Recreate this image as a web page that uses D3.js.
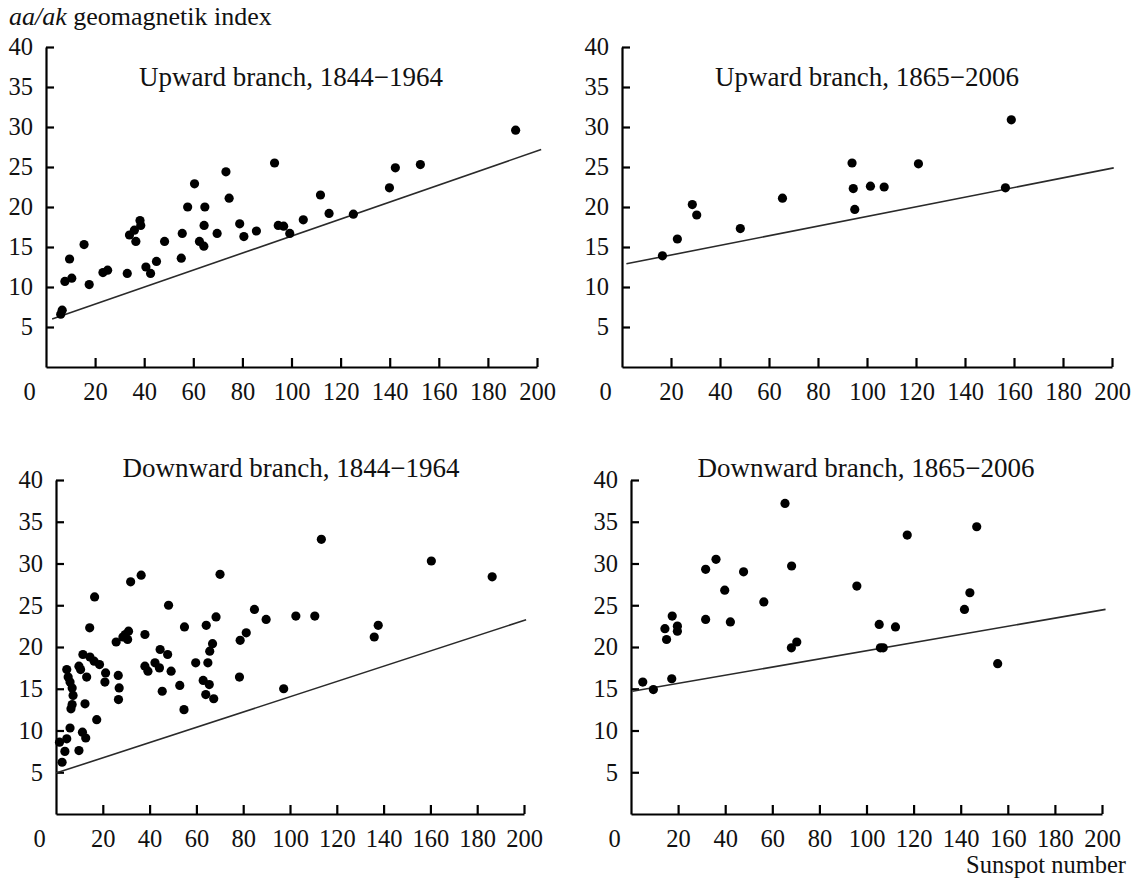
<!DOCTYPE html>
<html>
<head>
<meta charset="utf-8">
<script src="https://cdn.jsdelivr.net/npm/d3@7/dist/d3.min.js"></script>
<style>
  html, body { margin: 0; padding: 0; background: #fff; }
  svg { display: block; }
  text { font-family: "Liberation Serif", "Times New Roman", serif; fill: #111; }
</style>
</head>
<body>
<svg id="chart" width="1136" height="879"></svg>
<script>
// ---- Data ----
const panelTitles = [
  "Upward branch, 1844\u22121964",
  "Upward branch, 1865\u22122006",
  "Downward branch, 1844\u22121964",
  "Downward branch, 1865\u22122006"
];
const xTickValues = [0, 20, 40, 60, 80, 100, 120, 140, 160, 180, 200];
const yTickValues = [5, 10, 15, 20, 25, 30, 35, 40];
const yAxisTitle = ["aa/ak", " geomagnetik index"];
const xAxisTitle = "Sunspot number";

// [sunspot number, aa/ak index]
const upward1844 = [
  [6.0, 6.6], [6.6, 7.1], [7.7, 10.7], [9.6, 13.5], [10.5, 11.1], [15.5, 15.3],
  [17.6, 10.3], [23.2, 11.8], [25.1, 12.1], [33.1, 11.7], [34.0, 16.5], [36.0, 17.1],
  [36.6, 15.7], [38.3, 18.3], [38.6, 17.7], [40.7, 12.5], [42.6, 11.7], [45.0, 13.2],
  [48.3, 15.7], [55.1, 13.6], [55.5, 16.7], [57.7, 20.0], [60.5, 22.9], [62.5, 15.7],
  [64.3, 15.1], [64.7, 20.0], [64.4, 17.7], [69.7, 16.7], [73.3, 24.4], [74.6, 21.1],
  [78.9, 17.9], [80.6, 16.3], [85.7, 17.0], [93.1, 25.5], [94.6, 17.7], [96.8, 17.6],
  [99.3, 16.7], [104.8, 18.4], [111.8, 21.5], [115.3, 19.2], [125.2, 19.1], [139.9, 22.4],
  [142.3, 24.9], [152.5, 25.3], [191.3, 29.6]
];
const upward1865 = [
  [16.5, 13.9], [22.6, 16.0], [28.7, 20.3], [30.5, 19.0], [48.3, 17.3], [65.5, 21.1],
  [93.9, 25.5], [94.4, 22.3], [95.0, 19.7], [101.4, 22.6], [107.0, 22.5], [121.0, 25.4],
  [156.5, 22.4], [158.9, 30.9]
];
const downward1844 = [
  [2.6, 6.2], [1.5, 8.6], [3.8, 7.5], [4.6, 9.0], [6.0, 10.3], [4.6, 17.3], [5.2, 16.4],
  [6.0, 15.8], [6.9, 15.1], [7.3, 14.2], [6.9, 13.1], [6.4, 12.6], [9.8, 7.6], [9.8, 17.7],
  [10.5, 17.3], [11.5, 19.1], [11.3, 9.8], [12.7, 9.1], [12.4, 13.2], [13.1, 16.4],
  [14.4, 22.3], [14.5, 18.8], [16.5, 26.0], [17.4, 11.3], [16.3, 18.3], [18.6, 17.9],
  [21.2, 16.9], [20.9, 15.8], [25.7, 20.6], [26.6, 16.6], [27.0, 15.1], [26.7, 13.7],
  [28.6, 21.2], [29.6, 21.5], [30.6, 20.9], [31.0, 21.9], [31.9, 27.8], [36.4, 28.6],
  [38.0, 21.5], [38.0, 17.7], [39.3, 17.1], [42.3, 18.1], [44.2, 17.5], [44.5, 19.7],
  [45.4, 14.7], [47.7, 19.1], [48.1, 25.0], [49.2, 17.1], [52.9, 15.4], [54.7, 12.5],
  [54.9, 22.4], [59.7, 18.1], [62.9, 16.0], [64.2, 22.6], [64.9, 18.1], [65.5, 15.5],
  [64.0, 14.3], [65.7, 19.5], [66.9, 20.4], [67.4, 13.8], [68.4, 23.6], [70.1, 28.7],
  [78.4, 16.4], [78.7, 20.8], [81.3, 21.7], [84.8, 24.5], [89.8, 23.3], [97.3, 15.0],
  [102.5, 23.7], [110.6, 23.7], [113.4, 32.9], [136.0, 21.2], [137.7, 22.6],
  [160.4, 30.3], [186.4, 28.4]
];
const downward1865 = [
  [5.0, 15.8], [9.5, 14.9], [14.4, 22.2], [15.1, 20.9], [17.5, 23.7], [17.3, 16.2],
  [19.7, 22.5], [19.7, 21.9], [31.7, 29.3], [31.7, 23.3], [36.1, 30.5], [39.8, 26.8],
  [42.2, 23.0], [47.8, 29.0], [56.4, 25.4], [65.4, 37.2], [68.2, 29.7], [68.1, 19.9],
  [70.4, 20.6], [95.9, 27.3], [105.4, 22.7], [105.9, 19.9], [107.1, 19.9], [112.3, 22.4],
  [117.3, 33.4], [141.6, 24.5], [143.9, 26.5], [146.8, 34.4], [155.7, 18.0]
];
const seriesList = [upward1844, upward1865, downward1844, downward1865];

// regression lines: y = intercept + slope * x, drawn between xStart and xEnd
const lineIntercepts = [5.73, 12.79, 4.9, 14.67];
const lineSlopes = [0.1064, 0.0603, 0.0914, 0.0488];
const lineXStart = [2.5, 1.8, 0, 0.6];
const lineXEnd = [201.7, 200.7, 200.9, 201.5];

// ---- Layout ----
const panels = [
  { x0: 46,  x1: 537,  yBottom: 367, yTop: 47,  titleX: 291, titleY: 86 },
  { x0: 622, x1: 1112, yBottom: 367, yTop: 47,  titleX: 867, titleY: 86 },
  { x0: 56,  x1: 524,  yBottom: 814, yTop: 480, titleX: 291, titleY: 477 },
  { x0: 631, x1: 1102, yBottom: 814, yTop: 480, titleX: 866, titleY: 477 }
];

const svg = d3.select("#chart");
const tickFont = 24.5;

panels.forEach((p, i) => {
  const x = d3.scaleLinear().domain([0, 200]).range([p.x0, p.x1]);
  const y = d3.scaleLinear().domain([0, 40]).range([p.yBottom, p.yTop]);
  const g = svg.append("g");

  // X axis
  const xAxis = d3.axisBottom(x).tickValues(xTickValues).tickSize(-9).tickSizeOuter(0).tickPadding(16)
    .tickFormat(d3.format("d"));
  const gx = g.append("g").attr("transform", `translate(0,${p.yBottom})`).call(xAxis)
    .attr("font-family", null).attr("font-size", null);
  gx.select(".domain").attr("stroke", "#000").attr("stroke-width", 2.2);
  gx.selectAll(".tick line").attr("stroke", "#000").attr("stroke-width", 2.2)
    .attr("display", d => d === 0 ? "none" : null);
  gx.selectAll(".tick text").style("font-family", "'Liberation Serif', serif").attr("font-size", tickFont)
    .attr("fill", "#111").attr("dx", d => d === 0 ? -17 : 0);

  // Y axis
  const yAxis = d3.axisLeft(y).tickValues(yTickValues).tickSize(-8).tickSizeOuter(0).tickPadding(13);
  const gy = g.append("g").attr("transform", `translate(${p.x0},0)`).call(yAxis)
    .attr("font-family", null).attr("font-size", null);
  gy.select(".domain").attr("stroke", "#000").attr("stroke-width", 2.2);
  gy.selectAll(".tick line").attr("stroke", "#000").attr("stroke-width", 2.2);
  gy.selectAll(".tick text").style("font-family", "'Liberation Serif', serif").attr("font-size", tickFont).attr("fill", "#111");

  // Regression line
  const lineGen = d3.line().x(d => x(d)).y(d => y(lineIntercepts[i] + lineSlopes[i] * d));
  g.append("path")
    .attr("d", lineGen([lineXStart[i], lineXEnd[i]]))
    .attr("fill", "none").attr("stroke", "#2a2a2a").attr("stroke-width", 1.6);

  // Points
  g.selectAll("circle.pt").data(seriesList[i]).enter().append("circle")
    .attr("class", "pt")
    .attr("cx", d => x(d[0])).attr("cy", d => y(d[1]))
    .attr("r", 4.6).attr("fill", "#000");

  // Panel title
  g.append("text").attr("x", p.titleX).attr("y", p.titleY)
    .attr("text-anchor", "middle").attr("font-size", 27).text(panelTitles[i]);
});

// Y axis title
const yt = svg.append("text").attr("x", 9).attr("y", 25).attr("font-size", 26);
yt.append("tspan").attr("font-style", "italic").text(yAxisTitle[0]);
yt.append("tspan").text(yAxisTitle[1]);

// X axis title
svg.append("text").attr("x", 1126).attr("y", 873).attr("text-anchor", "end")
  .attr("font-size", 24.5).text(xAxisTitle);
</script>
</body>
</html>
